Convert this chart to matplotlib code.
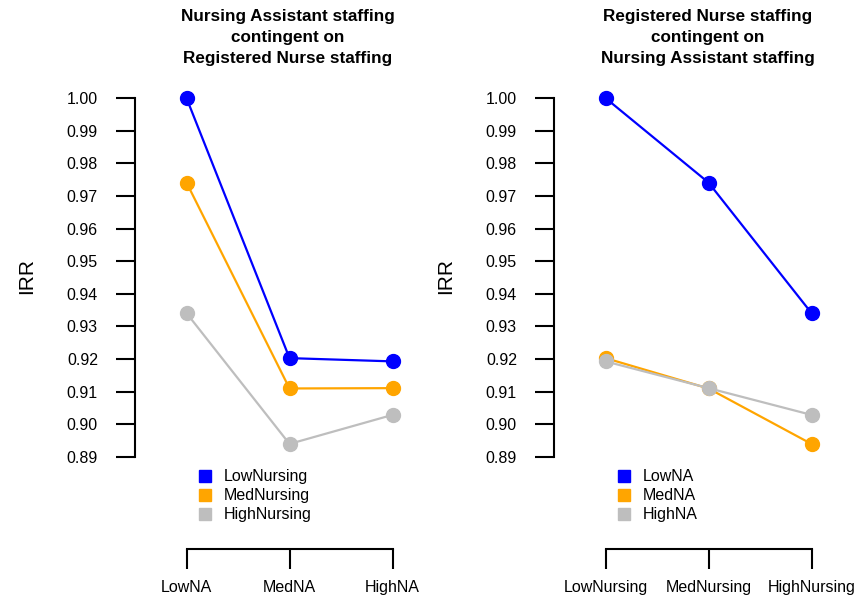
import matplotlib
matplotlib.use('Agg')
import matplotlib.pyplot as plt
from matplotlib.lines import Line2D

plt.rcParams['font.family'] = ['Liberation Sans', 'DejaVu Sans']

# IRR by Registered Nurse level (rows) x Nursing Assistant level (columns)
na_levels = ['LowNA', 'MedNA', 'HighNA']
nursing_levels = ['LowNursing', 'MedNursing', 'HighNursing']
low_nursing = [1.000, 0.9203, 0.9193]
med_nursing = [0.9741, 0.9110, 0.9111]
high_nursing = [0.9341, 0.8940, 0.9029]

low_na = [1.000, 0.9741, 0.9341]
med_na = [0.9203, 0.9110, 0.8940]
high_na = [0.9193, 0.9111, 0.9029]

yticks = [0.89, 0.90, 0.91, 0.92, 0.93, 0.94, 0.95, 0.96, 0.97, 0.98, 0.99, 1.00]
colors = ['#0000FF', '#FFA500', '#BEBEBE']

W, H = 863, 604
fig = plt.figure(figsize=(W / 100, H / 100), dpi=100)


def panel(left_px, series, labels, xlabels, title, title_x):
	ax = fig.add_axes([left_px / W, (H - 549) / H, 288.4 / W, (549 - 86) / H])
	x = [1, 2, 3]
	for ys, c, lab in zip(series, colors, labels):
		ax.plot(x, ys, color=c, lw=1.6, marker='o', ms=10, mec=c, mfc=c)
	ax.set_xlim(0.5, 3.3)
	ax.set_ylim(0.8618, 1.0037)
	for s in ['top', 'right']:
		ax.spines[s].set_visible(False)
	ax.spines['left'].set_bounds(0.89, 1.00)
	ax.spines['bottom'].set_bounds(1, 3)
	for s in ['left', 'bottom']:
		ax.spines[s].set_linewidth(1.5)
	ax.set_yticks(yticks)
	ax.set_yticklabels([f'{v:.2f}' for v in yticks])
	ax.set_xticks(x)
	ax.set_xticklabels(xlabels)
	ax.tick_params(axis='y', length=13.7, width=1.5, pad=13, labelsize=11.5)
	ax.tick_params(axis='x', length=14.4, width=1.5, pad=8, labelsize=11.5)
	ax.text(-0.376, 0.59, 'IRR', transform=ax.transAxes, rotation=90,
		fontsize=15, ha='center', va='center')
	handles = [Line2D([], [], marker='s', ls='none', color=c, ms=8.5) for c in colors]
	ax.legend(handles, labels, loc='upper left', frameon=False,
		bbox_to_anchor=((left_px + 56) / W, (H - 463) / H),
		bbox_transform=fig.transFigure, fontsize=11.5, handletextpad=0.65,
		labelspacing=0.25, borderaxespad=0, handlelength=1.0)
	fig.text(title_x / W, 1 - 9 / H, title, ha='center', va='top',
		fontsize=12.3, fontweight='bold', linespacing=1.52)


panel(135, [low_nursing, med_nursing, high_nursing], nursing_levels, na_levels,
	'Nursing Assistant staffing\ncontingent on\nRegistered Nurse staffing', 288)
panel(554, [low_na, med_na, high_na], na_levels, nursing_levels,
	'Registered Nurse staffing\ncontingent on\nNursing Assistant staffing', 708)

fig.savefig('out.png', dpi=100)
